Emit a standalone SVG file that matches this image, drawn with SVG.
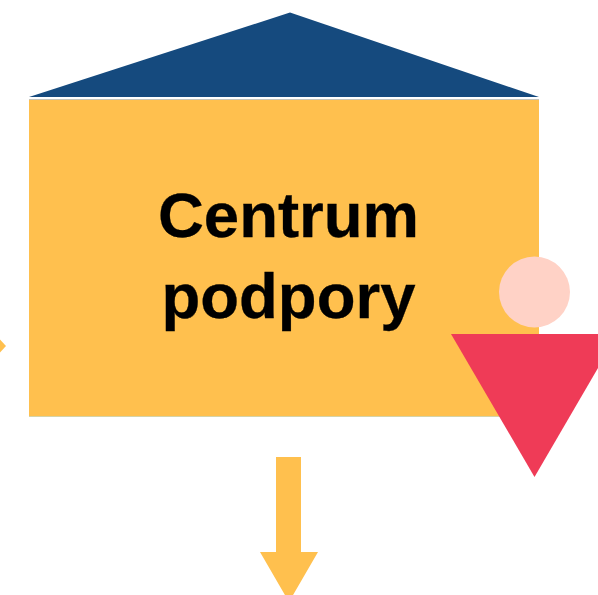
<svg xmlns="http://www.w3.org/2000/svg" width="598" height="595" viewBox="0 0 598 595">
<style>
.t{font-family:"Liberation Sans",Arial,sans-serif;font-weight:700;font-size:63.500px;fill:#000;text-anchor:middle;stroke:#000;stroke-width:0.3px}
.a{fill:#FFC04E}
</style>
<rect width="598" height="595" fill="#fff"/>
<g id="roof"><polygon points="290,12.500 539,97 29,97" fill="#154A7E"/></g>
<g id="centrum">
<rect x="29" y="99" width="510" height="1" fill="#C4C4BC"/>
<rect x="29" y="100" width="510" height="316" class="a"/>
<rect x="29" y="416" width="477" height="1" fill="#D5D3A8"/>
<text x="288.500" y="237" class="t">Centrum</text>
<text x="288.500" y="318" class="t">podpory</text>
</g>
<g id="person">
<circle cx="534.500" cy="292" r="35.500" fill="#FFD2C6"/>
<polygon points="451,334 598,334 598,368 534.500,477" fill="#EF3B57"/>
</g>
<g id="connectors">
<polygon points="0,339.500 6,346 0,352.500" class="a"/>
<polygon points="276,457 301,457 301,552 318,552 289,602 260,552 276,552" class="a"/>
</g>
</svg>
